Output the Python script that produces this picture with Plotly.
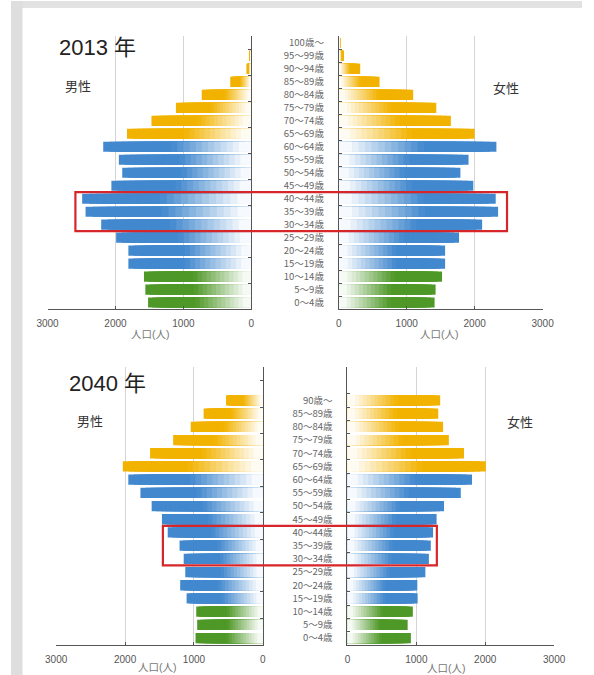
import plotly.graph_objects as go

W, H = 594, 675

# Age groups, bottom row first
ages_2013 = ["0～4歳", "5～9歳", "10～14歳", "15～19歳", "20～24歳", "25～29歳",
             "30～34歳", "35～39歳", "40～44歳", "45～49歳", "50～54歳", "55～59歳",
             "60～64歳", "65～69歳", "70～74歳", "75～79歳", "80～84歳", "85～89歳",
             "90～94歳", "95～99歳", "100歳～"]
male_2013 = [1520, 1560, 1580, 1810, 1810, 1990, 2210, 2440, 2490, 2060, 1900,
             1950, 2180, 1830, 1470, 1110, 730, 310, 70, 15, 0]
female_2013 = [1410, 1425, 1520, 1565, 1565, 1770, 2110, 2345, 2310, 1980, 1790,
               1910, 2320, 2000, 1650, 1435, 1095, 600, 315, 75, 15]

ages_2040 = ["0～4歳", "5～9歳", "10～14歳", "15～19歳", "20～24歳", "25～29歳",
             "30～34歳", "35～39歳", "40～44歳", "45～49歳", "50～54歳", "55～59歳",
             "60～64歳", "65～69歳", "70～74歳", "75～79歳", "80～84歳", "85～89歳",
             "90歳～"]
male_2040 = [977, 953, 967, 1107, 1200, 1126, 1149, 1209, 1381, 1465, 1614, 1777,
             1953, 2033, 1637, 1302, 1047, 860, 535]
female_2040 = [921, 874, 949, 1019, 1014, 1131, 1182, 1210, 1243, 1294, 1402, 1645,
               1808, 2009, 1692, 1472, 1388, 1318, 1346]

x_ticks = [0, 1000, 2000, 3000]

FONT = "Liberation Sans, Noto Sans CJK JP, sans-serif"
JP = "Noto Sans CJK JP, sans-serif"

GREEN = (78, 152, 40)
BLUE = (66, 136, 206)
YELLOW = (242, 178, 0)


def base_color(i):
    if i < 3:
        return GREEN
    if i < 13:
        return BLUE
    return YELLOW


def shade(rgb, f):
    r, g, b = (round(255 * (1 - f) + c * f) for c in rgb)
    return f"rgb({r},{g},{b})"


N_SEG = 24


def px_x(p):
    return p / W


def px_y(p):
    return 1 - p / H


fig = go.Figure()


def add_pyramid(values, cats, xa, ya):
    # overlaid bars of decreasing length, each paler than the one beneath,
    # so every bar fades toward the centre axis
    for k in range(N_SEG):
        frac = (N_SEG - k) / N_SEG
        t = (N_SEG - k - 0.5) / N_SEG
        f = min(1.0, max(0.05, (t - 0.04) / 0.5))
        fig.add_trace(go.Bar(
            x=[v * frac for v in values], y=cats, orientation="h",
            marker=dict(color=[shade(base_color(i), f) for i in range(len(cats))],
                        line=dict(width=0)),
            xaxis=xa, yaxis=ya, showlegend=False, hoverinfo="skip",
        ))


add_pyramid(male_2013, ages_2013, "x", "y")
add_pyramid(female_2013, ages_2013, "x2", "y2")
add_pyramid(male_2040, ages_2040, "x3", "y3")
add_pyramid(female_2040, ages_2040, "x4", "y4")

top_dom = [px_y(308.5), px_y(35.5)]
bot_dom = [px_y(644.6), px_y(367)]

xcommon = dict(tickvals=x_ticks, ticktext=[str(v) for v in x_ticks],
               showgrid=True, gridcolor="#d4d4d4", gridwidth=1, zeroline=False,
               showline=True, linecolor="#555", linewidth=1, ticks="inside",
               ticklen=3, tickcolor="#555", tickfont=dict(family=FONT, size=10, color="#555"),
               ticklabelstandoff=5, fixedrange=True)


def ycommon(cats, side, labels):
    return dict(type="category", categoryorder="array", categoryarray=cats,
                range=[-0.5, 20.5], tickson="boundaries", ticks="inside", ticklen=3,
                tickcolor="#555", showline=True, linecolor="#555", linewidth=1,
                showgrid=False, zeroline=False, side=side, showticklabels=labels,
                tickfont=dict(family=JP, size=9.5, color="#666"),
                ticklabelstandoff=12, fixedrange=True)


fig.update_layout(
    width=W, height=H, margin=dict(l=0, r=0, t=0, b=0),
    paper_bgcolor="white", plot_bgcolor="rgba(0,0,0,0)",
    barmode="overlay", bargap=0.22,
    xaxis=dict(domain=[px_x(38), px_x(250)], range=[3000, 0], anchor="y", **xcommon),
    xaxis2=dict(domain=[px_x(341), px_x(553)], range=[0, 3000], anchor="y2", **xcommon),
    xaxis3=dict(domain=[px_x(47), px_x(262)], range=[3000, 0], anchor="y3", **xcommon),
    xaxis4=dict(domain=[px_x(350), px_x(565)], range=[0, 3000], anchor="y4", **xcommon),
    yaxis=dict(domain=top_dom, anchor="x", **ycommon(ages_2013, "right", False)),
    yaxis2=dict(domain=top_dom, anchor="x2", **ycommon(ages_2013, "left", True)),
    yaxis3=dict(domain=bot_dom, anchor="x3", **ycommon(ages_2040, "right", False)),
    yaxis4=dict(domain=bot_dom, anchor="x4", **ycommon(ages_2040, "left", True)),
)

# soft grey border of the page
fig.add_shape(type="rect", xref="paper", yref="paper", x0=0, x1=1, y0=px_y(7), y1=1,
              fillcolor="#e2e2e2", line=dict(width=0), layer="below")
fig.add_shape(type="rect", xref="paper", yref="paper", x0=0, x1=px_x(12), y0=0, y1=1,
              fillcolor="#dedede", line=dict(width=0), layer="below")

# highlight of the 30-44 age band
RED = "#d7262a"
fig.add_shape(type="rect", xref="paper", yref="y", x0=px_x(67), x1=px_x(516),
              y0=5.5, y1=8.5, line=dict(color=RED, width=2.2), fillcolor="rgba(0,0,0,0)")
fig.add_shape(type="rect", xref="paper", yref="y3", x0=px_x(158), x1=px_x(443),
              y0=5.5, y1=8.5, line=dict(color=RED, width=2.2), fillcolor="rgba(0,0,0,0)")


def label(text, x, y, size, color="#222", anchor="left"):
    fig.add_annotation(text=text, x=px_x(x), y=px_y(y), xref="paper", yref="paper",
                       xanchor=anchor, yanchor="middle", showarrow=False,
                       font=dict(family=FONT, size=size, color=color))


label("2013 年", 48, 47, 22)
label("男性", 54, 86, 13, "#333")
label("女性", 515, 88, 13, "#333", "center")
label("2040 年", 58, 383, 22)
label("男性", 67, 421, 13, "#333")
label("女性", 530, 422, 13, "#333", "center")

for cx, cy in [(145, 333), (446, 333), (152, 667), (453, 668)]:
    label("人口(人)", cx, cy, 10.5, "#777", "center")

fig.write_html("out.html")
